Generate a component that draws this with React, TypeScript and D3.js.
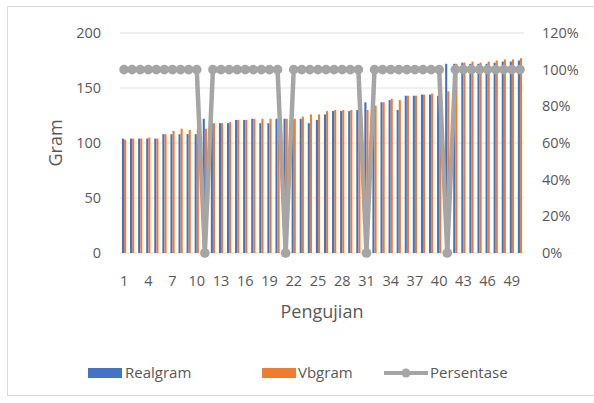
import React from "react";
import * as d3 from "d3";

const categories: string[] = Array.from({ length: 50 }, (_, i) => String(i + 1));

const realgram: number[] = [
  104, 104, 104, 104, 104, 108, 108, 108, 108, 108,
  122, 118, 118, 118, 121, 121, 122, 118, 118, 122,
  122, 121, 122, 118, 121, 126, 129, 129, 129, 130,
  137, 134, 137, 139, 130, 143, 143, 144, 144, 143,
  172, 172, 173, 172, 172, 172, 173, 174, 174, 175,
];

const vbgram: number[] = [
  103, 104, 104, 105, 104, 108, 111, 113, 112, 113,
  113, 118, 118, 119, 121, 121, 122, 122, 122, 122,
  122, 122, 124, 126, 126, 129, 130, 130, 130, 130,
  130, 134, 137, 140, 139, 143, 143, 144, 145, 144,
  147, 172, 173, 174, 173, 174, 175, 176, 176, 177,
];

const persentase: number[] = [
  1, 1, 1, 1, 1, 1, 1, 1, 1, 1,
  0, 1, 1, 1, 1, 1, 1, 1, 1, 1,
  0, 1, 1, 1, 1, 1, 1, 1, 1, 1,
  0, 1, 1, 1, 1, 1, 1, 1, 1, 1,
  0, 1, 1, 1, 1, 1, 1, 1, 1, 1,
];

const leftTicks: number[] = [0, 50, 100, 150, 200];
const rightTicks: number[] = [0, 0.2, 0.4, 0.6, 0.8, 1, 1.2];
const seriesNames: string[] = ["Realgram", "Vbgram", "Persentase"];

const BLUE = "#4472C4";
const ORANGE = "#ED7D31";
const GRAY = "#A5A5A5";
const TEXT = "#595959";
const FONT = "'Open Sans', 'Noto Sans', sans-serif";

export default function App() {
  const width = 594;
  const height = 403;
  const left = 120;
  const right = 524;
  const top = 33;
  const bottom = 253;

  const x = d3
    .scaleBand<string>()
    .domain(categories)
    .range([left, right])
    .paddingInner(0.48)
    .paddingOuter(0.24);
  const sub = d3
    .scaleBand<string>()
    .domain(["r", "v"])
    .range([0, x.bandwidth()])
    .padding(0);
  const y = d3.scaleLinear().domain([0, 200]).range([bottom, top]);
  const y2 = d3.scaleLinear().domain([0, 1.2]).range([bottom, top]);

  const cx = (c: string) => (x(c) as number) + x.bandwidth() / 2;

  const linePath = d3
    .line<number>()
    .x((_, i) => cx(categories[i]))
    .y((d) => y2(d))(persentase) as string;

  const xTickLabels = categories.filter((_, i) => i % 3 === 0);

  return (
    <svg
      width={width}
      height={height}
      style={{ position: "absolute", left: 0, top: 0, background: "#fff" }}
      fontFamily={FONT}
    >
      <rect x={0} y={0} width={width} height={height} fill="#fff" />
      <rect x={7.5} y={6.5} width={620} height={389} fill="none" stroke="#d9d9d9" strokeWidth={1} />

      {/* gridlines */}
      {leftTicks.map((t) => (
        <line key={t} x1={left} x2={right} y1={y(t)} y2={y(t)} stroke="#e0e0e0" strokeWidth={1} />
      ))}

      {/* bars */}
      {categories.map((c, i) => (
        <g key={c}>
          <rect
            x={(x(c) as number) + (sub("r") as number)}
            y={y(realgram[i])}
            width={sub.bandwidth()}
            height={bottom - y(realgram[i])}
            fill={BLUE}
          />
          <rect
            x={(x(c) as number) + (sub("v") as number)}
            y={y(vbgram[i])}
            width={sub.bandwidth()}
            height={bottom - y(vbgram[i])}
            fill={ORANGE}
          />
        </g>
      ))}

      {/* percentage line */}
      <path d={linePath} fill="none" stroke={GRAY} strokeWidth={4.5} strokeLinejoin="round" />
      {persentase.map((p, i) => (
        <circle key={i} cx={cx(categories[i])} cy={y2(p)} r={4.8} fill={GRAY} />
      ))}

      {/* left axis */}
      {leftTicks.map((t) => (
        <text key={t} x={101} y={y(t)} dy="0.35em" textAnchor="end" fontSize={14.5} fill={TEXT}>
          {t}
        </text>
      ))}
      <text
        transform={`translate(62,${(top + bottom) / 2}) rotate(-90)`}
        textAnchor="middle"
        fontSize={18}
        fill={TEXT}
      >
        Gram
      </text>

      {/* right axis */}
      {rightTicks.map((t) => (
        <text key={t} x={542} y={y2(t)} dy="0.35em" textAnchor="start" fontSize={14.5} fill={TEXT}>
          {d3.format(".0%")(t)}
        </text>
      ))}

      {/* x axis */}
      {xTickLabels.map((c) => (
        <text key={c} x={cx(c)} y={281} dy="0.35em" textAnchor="middle" fontSize={14.5} fill={TEXT}>
          {c}
        </text>
      ))}
      <text x={(left + right) / 2} y={312} dy="0.35em" textAnchor="middle" fontSize={18} fill={TEXT}>
        Pengujian
      </text>

      {/* legend */}
      <rect x={88} y={368} width={34} height={10} fill={BLUE} />
      <text x={125} y={373} dy="0.35em" fontSize={15} fill={TEXT}>{seriesNames[0]}</text>
      <rect x={262} y={368} width={34} height={10} fill={ORANGE} />
      <text x={298} y={373} dy="0.35em" fontSize={15} fill={TEXT}>{seriesNames[1]}</text>
      <line x1={384} x2={428} y1={373} y2={373} stroke={GRAY} strokeWidth={4} />
      <circle cx={406} cy={373} r={4.5} fill={GRAY} />
      <text x={430} y={373} dy="0.35em" fontSize={15} fill={TEXT}>{seriesNames[2]}</text>
    </svg>
  );
}
